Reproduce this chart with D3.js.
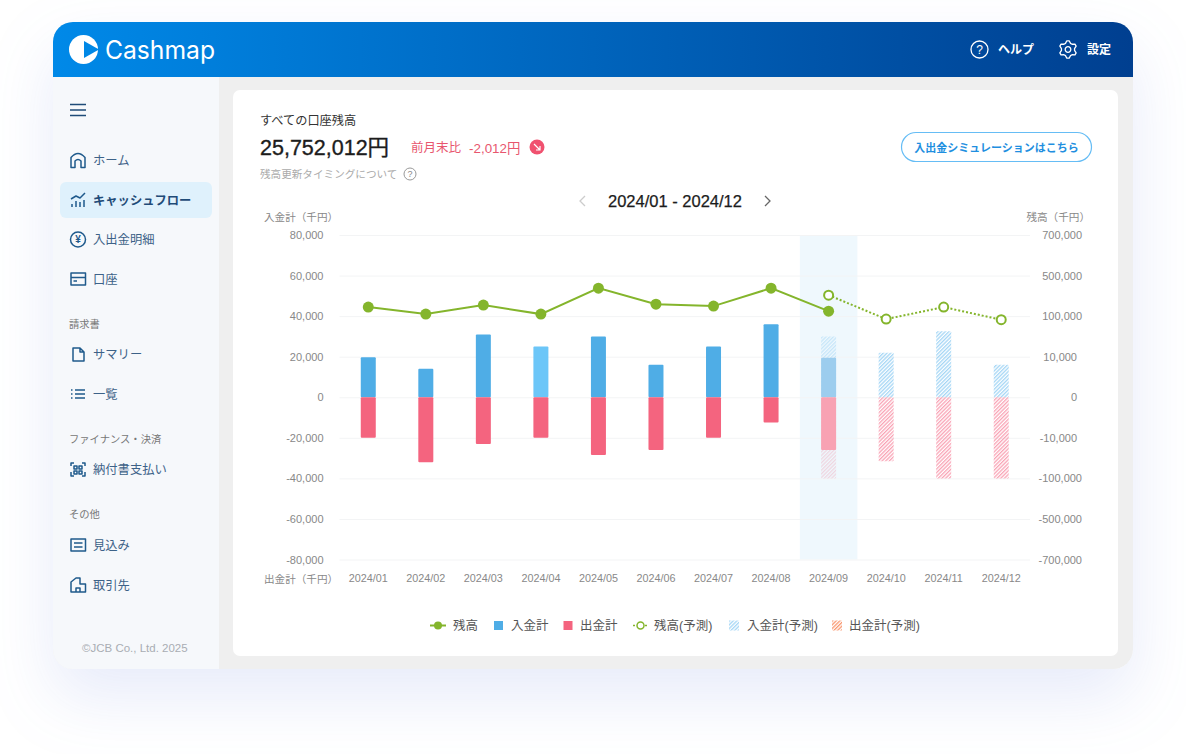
<!DOCTYPE html>
<html lang="ja">
<head>
<meta charset="utf-8">
<title>Cashmap</title>
<script src="https://cdn.jsdelivr.net/npm/d3@7"></script>
<style>
  html, body { margin: 0; padding: 0; background: #fff; }
  svg { display: block; }
  text { font-family: "Liberation Sans", "Noto Sans CJK JP", sans-serif; }
</style>
</head>
<body>
<div id="mainDiv"></div>
<script>
'use strict';

// values
var months = ['2024/01', '2024/02', '2024/03', '2024/04', '2024/05', '2024/06', '2024/07', '2024/08', '2024/09', '2024/10', '2024/11', '2024/12'];
var inflow = [19750, 14000, 31000, 25000, 30000, 16000, 25000, 36000, 19500];
var outflow = [-20000, -32000, -23000, -20000, -28500, -26000, -20000, -12500, -26000];
var balance = [189000, 120000, 209000, 120000, 376000, 218000, 199000, 376000, 149000];
var forecastMonths = ['2024/09', '2024/10', '2024/11', '2024/12'];
var inflowForecast = [30000, 22000, 32500, 16000];
var outflowForecast = [-40000, -31500, -40000, -40000];
var balanceForecast = [307000, 93400, 189000, 92000];

var leftTicks = [80000, 60000, 40000, 20000, 0, -20000, -40000, -60000, -80000];
var rightTicks = [700000, 500000, 100000, 10000, 0, -10000, -100000, -500000, -700000];

var currentMonth = '2024/09';
var hoverMonth = '2024/04';

var sideItems = ['ホーム', 'キャッシュフロー', '入出金明細', '口座', 'サマリー', '一覧', '納付書支払い', '見込み', '取引先'];
var sideItemY = [160, 200, 239, 279, 354, 394, 469, 545, 585];
var sideHeads = ['請求書', 'ファイナンス・決済', 'その他'];
var sideHeadY = [324, 439, 514];

var legendLabels = ['残高', '入金計', '出金計', '残高(予測)', '入金計(予測)', '出金計(予測)'];
var legendTextX = [453, 511, 580, 654, 747, 849];

var green = '#84b52c', blue = '#4fade6', lightBlue = '#6cc6f8', red = '#f4647f';

var svg = d3.select('#mainDiv').append('svg').attr('width', 1186).attr('height', 754);
var defs = svg.append('defs');

function addHatch(id, color, opacity) {
    var p = defs.append('pattern').attr('id', id)
        .attr('patternUnits', 'userSpaceOnUse')
        .attr('width', 2.6).attr('height', 2.6)
        .attr('patternTransform', 'rotate(45)');
    p.append('rect').attr('width', 1.3).attr('height', 2.6).attr('fill', color).attr('opacity', opacity);
}
addHatch('hatchBlue', '#a4d6f5', 1);
addHatch('hatchRed', '#f9a3b5', 1);
addHatch('hatchBlueFade', '#a4d6f5', 0.55);
addHatch('hatchRedFade', '#f0b4c4', 0.5);
addHatch('hatchOrange', '#f9976f', 1);

var grad = defs.append('linearGradient').attr('id', 'headerGrad');
grad.append('stop').attr('offset', '0%').attr('stop-color', '#0089e8');
grad.append('stop').attr('offset', '100%').attr('stop-color', '#003f90');

defs.append('clipPath').attr('id', 'winClip').append('rect')
    .attr('x', 53).attr('y', 22).attr('width', 1080).attr('height', 647).attr('rx', 20);

function label(parent, x, y, str, size, color, weight, anchor) {
    return parent.append('text')
        .attr('x', x).attr('y', y).attr('dy', '0.42em')
        .attr('font-size', size).attr('fill', color)
        .attr('font-weight', weight || 400)
        .attr('text-anchor', anchor || 'start')
        .text(str);
}

// window
svg.append('rect').attr('x', 53).attr('y', 22).attr('width', 1080).attr('height', 647).attr('rx', 20)
    .attr('fill', '#fff')
    .style('filter', 'drop-shadow(0 28px 32px rgba(70,100,220,0.13))');
var win = svg.append('g').attr('clip-path', 'url(#winClip)');
win.append('rect').attr('x', 53).attr('y', 22).attr('width', 1080).attr('height', 647).attr('fill', '#efefef');
win.append('rect').attr('x', 53).attr('y', 77).attr('width', 166).attr('height', 592).attr('fill', '#f6f8fb');
win.append('rect').attr('x', 53).attr('y', 22).attr('width', 1080).attr('height', 55).attr('fill', 'url(#headerGrad)');

// header
var head = svg.append('g');
head.append('circle').attr('cx', 83.5).attr('cy', 49.5).attr('r', 14.5).attr('fill', '#fff');
head.append('path').attr('fill', '#0088e6').attr('d', 'M84 41L99 49.5L84 58Z');
head.append('text').attr('x', 105).attr('y', 59)
    .attr('font-size', 25).attr('fill', '#fff').attr('font-weight', 400)
    .attr('textLength', 110).attr('lengthAdjust', 'spacingAndGlyphs')
    .style('font-family', 'Inter').text('Cashmap');
head.append('circle').attr('cx', 979.5).attr('cy', 49.5).attr('r', 8.5).attr('fill', 'none').attr('stroke', '#fff').attr('stroke-width', 1.3);
label(head, 979.5, 49, '?', 12, '#fff', 400, 'middle');
label(head, 998, 49, 'ヘルプ', 12, '#fff', 700);
var gear = head.append('g').attr('transform', 'translate(1068,49.5)');
gear.append('circle').attr('r', 2.8).attr('fill', 'none').attr('stroke', '#fff').attr('stroke-width', 1.3);
gear.append('path').attr('fill', 'none').attr('stroke', '#fff').attr('stroke-width', 1.3).attr('stroke-linejoin', 'round')
    .attr('d', d3.range(24).map(function(i) {
        var a = i / 24 * 2 * Math.PI - Math.PI / 2 - Math.PI / 24, r = (i % 4 < 2) ? 8.8 : 6.6;
        return (i ? 'L' : 'M') + (r * Math.cos(a)).toFixed(2) + ' ' + (r * Math.sin(a)).toFixed(2);
    }).join('') + 'Z');
label(head, 1087, 49, '設定', 12, '#fff', 700);

// sidebar
var side = svg.append('g');
side.append('path').attr('stroke', '#1f4b78').attr('stroke-width', 1.6).attr('d', 'M70 104.5H86M70 110H86M70 115.5H86');
side.append('rect').attr('x', 60).attr('y', 182).attr('width', 152).attr('height', 36).attr('rx', 6).attr('fill', '#dff1fc');

sideItems.forEach(function(t, i) {
    label(side, 93, sideItemY[i], t, 12.3, i === 1 ? '#1f4b78' : '#3d6288', i === 1 ? 700 : 400);
});
sideHeads.forEach(function(t, i) {
    label(side, 69, sideHeadY[i], t, 10.3, '#777');
});
label(side, 82, 647, '©JCB Co., Ltd. 2025', 11.5, '#a9adb3');

var iconPaths = [
    'M71 167.5V157.5Q78 149.5 85 157.5V167.5H81V161Q78 158 75 161V167.5Z',
    'M72 207V204M76 207V201M80 207V202M84 207V200M71 199L76 196L80 198L85 193',
    null,
    'M71 273H85.5V285H71ZM71 277.5H85.5M73.5 281H77',
    'M73 348H80L84 352V361H73ZM80 348V352H84',
    'M75 390H85M75 394H85M75 398H85M71 390H72.5M71 394H72.5M71 398H72.5',
    'M71 466V463H74M82 463H85V466M71 472V476H74M82 476H85V472M74 466H77V469H74ZM79 466H82V469H79ZM74 471H77V474H74ZM79 471H82V474H79Z',
    'M71 539H85.5V551H71ZM74 543H82.5M74 547H82.5',
    'M71 592V582L76 578H80V584H85.5V592ZM76 592V588H80V592'
];
iconPaths.forEach(function(d) {
    if (d) {
        side.append('path').attr('d', d).attr('fill', 'none').attr('stroke', '#1f5a8c').attr('stroke-width', 1.5).attr('stroke-linejoin', 'round');
    }
});
side.append('circle').attr('cx', 78).attr('cy', 239.5).attr('r', 7.5).attr('fill', 'none').attr('stroke', '#1f5a8c').attr('stroke-width', 1.5);
label(side, 78, 239, '¥', 10, '#1f5a8c', 700, 'middle');

// card
var card = svg.append('g');
card.append('rect').attr('x', 233).attr('y', 90).attr('width', 885).attr('height', 566).attr('rx', 7).attr('fill', '#fff');
label(card, 260, 120, 'すべての口座残高', 12.2, '#333');
label(card, 260, 146, '25,752,012円', 21.5, '#1c1c1c')
    .attr('stroke', '#1c1c1c').attr('stroke-width', 0.35);
label(card, 411, 147, '前月末比', 12.5, '#e8566e');
label(card, 469, 147, '-2,012円', 13.4, '#e8566e');
card.append('circle').attr('cx', 537).attr('cy', 147).attr('r', 7.5).attr('fill', '#f0516f');
card.append('path').attr('d', 'M534 144L540 150M540 146V150H536').attr('fill', 'none').attr('stroke', '#fff').attr('stroke-width', 1.2);
label(card, 260, 174, '残高更新タイミングについて', 10.6, '#aaa');
card.append('circle').attr('cx', 410).attr('cy', 174).attr('r', 6).attr('fill', 'none').attr('stroke', '#999');
label(card, 410, 173.5, '?', 9, '#888', 400, 'middle');

card.append('rect').attr('x', 901.5).attr('y', 132.5).attr('width', 190).attr('height', 29).attr('rx', 14.5)
    .attr('fill', '#fff').attr('stroke', '#66bdf5').attr('stroke-width', 1.2);
label(card, 996.5, 147, '入出金シミュレーションはこちら', 11, '#1f8fe0', 700, 'middle');

label(card, 675, 200.5, months[0] + ' - ' + months[11], 16.5, '#1c1c1c', 400, 'middle')
    .attr('stroke', '#1c1c1c').attr('stroke-width', 0.25);
card.append('path').attr('d', 'M585 196L580 201L585 206').attr('fill', 'none').attr('stroke', '#ccc').attr('stroke-width', 1.3);
card.append('path').attr('d', 'M765 196L770 201L765 206').attr('fill', 'none').attr('stroke', '#666').attr('stroke-width', 1.3);

// chart
var xScale = d3.scaleBand().domain(months).range([339.5, 1030]);
var yLeft = d3.scaleLinear().domain([-80000, 80000]).range([559.5, 235]);
var yRight = d3.scaleLinear().domain(rightTicks).range(leftTicks.map(yLeft));
var cx = function(m) { return xScale(m) + xScale.bandwidth() / 2; };
var barW = 15;
var tickFmt = function(d) { return d3.format(',')(d).replace('\u2212', '-'); };

var chart = svg.append('g');
chart.append('rect')
    .attr('x', xScale(currentMonth)).attr('y', yLeft(80000))
    .attr('width', xScale.bandwidth()).attr('height', yLeft(-80000) - yLeft(80000))
    .attr('fill', '#eff8fd');

var leftAxis = chart.append('g').attr('transform', 'translate(339.5,0)')
    .call(d3.axisLeft(yLeft).tickValues(leftTicks).tickSize(-xScale.range()[1] + 339.5).tickPadding(16).tickFormat(tickFmt));
leftAxis.select('.domain').remove();
leftAxis.selectAll('line').attr('stroke', '#f3f4f5');
leftAxis.selectAll('text').attr('font-size', 11).attr('fill', '#888').style('font-family', 'Liberation Sans');

var rightAxis = chart.append('g').attr('transform', 'translate(1030,0)')
    .call(d3.axisRight(yRight).tickValues(rightTicks).tickSize(0).tickFormat(tickFmt));
rightAxis.select('.domain').remove();
rightAxis.selectAll('text')
    .attr('font-size', 11).attr('fill', '#888').attr('text-anchor', 'end').style('font-family', 'Liberation Sans')
    .attr('x', function(d) { return Math.abs(d) >= 100000 ? 52 : 47; });

var bottomAxis = chart.append('g').attr('transform', 'translate(0,578)')
    .call(d3.axisBottom(xScale).tickSize(0).tickPadding(0));
bottomAxis.select('.domain').remove();
bottomAxis.selectAll('text').attr('font-size', 10.8).attr('fill', '#888').attr('dy', '0.35em').style('font-family', 'Liberation Sans');

label(chart, 264, 216.5, '入金計（千円）', 10.6, '#888');
label(chart, 264, 578.5, '出金計（千円）', 10.6, '#888');
label(chart, 1090, 216.5, '残高（千円）', 10.6, '#888', 400, 'end');

function drawBars(data, keyFn, fill) {
    chart.append('g').selectAll('rect').data(data).enter().append('rect')
        .attr('x', function(d, i) { return cx(keyFn(i)) - barW / 2; })
        .attr('y', function(d) { return yLeft(Math.max(d, 0)); })
        .attr('width', barW)
        .attr('height', function(d) { return Math.abs(yLeft(d) - yLeft(0)); })
        .attr('rx', 1)
        .attr('fill', fill);
}
var actualKey = function(i) { return months[i]; };
var forecastKey = function(i) { return forecastMonths[i]; };

drawBars(inflowForecast, forecastKey, function(d, i) { return forecastMonths[i] === currentMonth ? 'url(#hatchBlueFade)' : 'url(#hatchBlue)'; });
drawBars(outflowForecast, forecastKey, function(d, i) { return forecastMonths[i] === currentMonth ? 'url(#hatchRedFade)' : 'url(#hatchRed)'; });
drawBars(inflow, actualKey, function(d, i) {
    if (months[i] === currentMonth) return '#9ccdee';
    return months[i] === hoverMonth ? lightBlue : blue;
});
drawBars(outflow, actualKey, function(d, i) { return months[i] === currentMonth ? '#f8a2b3' : red; });

var lineGen = d3.line()
    .x(function(d) { return cx(d.m); })
    .y(function(d) { return yRight(d.v); });
var actualPts = balance.map(function(v, i) { return {m: months[i], v: v}; });
var forecastPts = balanceForecast.map(function(v, i) { return {m: forecastMonths[i], v: v}; });

chart.append('path').datum(actualPts).attr('d', lineGen)
    .attr('fill', 'none').attr('stroke', green).attr('stroke-width', 2);
chart.append('path').datum(forecastPts).attr('d', lineGen)
    .attr('fill', 'none').attr('stroke', green).attr('stroke-width', 2).attr('stroke-dasharray', '2,2');
chart.append('g').selectAll('circle').data(actualPts).enter().append('circle')
    .attr('cx', function(d) { return cx(d.m); })
    .attr('cy', function(d) { return yRight(d.v); })
    .attr('r', 5.5).attr('fill', green);
chart.append('g').selectAll('circle').data(forecastPts).enter().append('circle')
    .attr('cx', function(d) { return cx(d.m); })
    .attr('cy', function(d) { return yRight(d.v); })
    .attr('r', 4.5).attr('fill', '#fff').attr('stroke', green).attr('stroke-width', 2);

// legend
var legend = svg.append('g');
legendLabels.forEach(function(t, i) {
    label(legend, legendTextX[i], 625, t, 12.5, '#555');
});
legend.append('path').attr('d', 'M430 625.5H446').attr('stroke', green).attr('stroke-width', 2);
legend.append('circle').attr('cx', 438).attr('cy', 625.5).attr('r', 4).attr('fill', green);
legend.append('rect').attr('x', 494).attr('y', 621).attr('width', 9).attr('height', 9).attr('fill', blue);
legend.append('rect').attr('x', 563.5).attr('y', 621).attr('width', 9).attr('height', 9).attr('fill', red);
legend.append('path').attr('d', 'M633 625.5H648').attr('stroke', green).attr('stroke-width', 1.5).attr('stroke-dasharray', '2,2');
legend.append('circle').attr('cx', 640.5).attr('cy', 625.5).attr('r', 3.5).attr('fill', '#fff').attr('stroke', green).attr('stroke-width', 1.5);
legend.append('rect').attr('x', 729).attr('y', 620.5).attr('width', 10).attr('height', 10).attr('fill', 'url(#hatchBlue)');
legend.append('rect').attr('x', 832).attr('y', 620.5).attr('width', 10).attr('height', 10).attr('fill', 'url(#hatchOrange)');
</script>
</body>
</html>
